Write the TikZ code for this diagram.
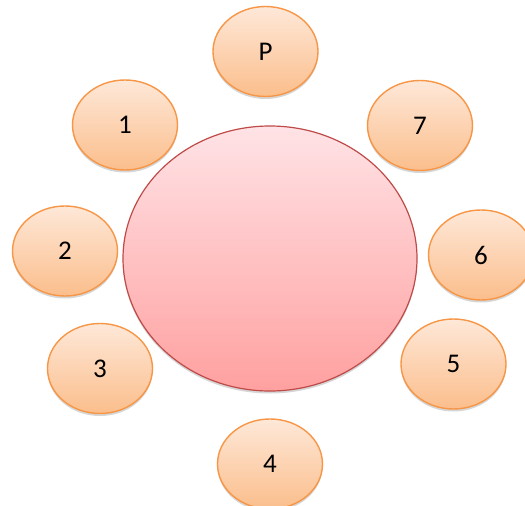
\documentclass[tikz,border=0pt]{standalone}
\usepackage{fontspec}
\setmainfont{Carlito}
\usetikzlibrary{shapes.geometric,shadows}
\definecolor{SeatEdge}{HTML}{F79646}
\definecolor{SeatTop}{HTML}{FEE8D8}
\definecolor{SeatBottom}{HTML}{FBBE8C}
\definecolor{TableEdge}{HTML}{BE4B48}
\definecolor{TableTop}{HTML}{FFE3E6}
\definecolor{TableBottom}{HTML}{FFA0A0}

\tikzset{
  seat/.style={ellipse,draw=SeatEdge,line width=1.4pt,top color=SeatTop,bottom color=SeatBottom,
    minimum width=105pt,minimum height=90pt,inner sep=0pt,
    drop shadow={shadow xshift=0pt,shadow yshift=-2.5pt,opacity=0.16,fill=black}},
  roundtable/.style={ellipse,draw=TableEdge,line width=1.2pt,top color=TableTop,bottom color=TableBottom,
    minimum width=294pt,minimum height=265pt,inner sep=0pt,
    drop shadow={shadow xshift=0pt,shadow yshift=-2.5pt,opacity=0.16,fill=black}}
}

\begin{document}
\begin{tikzpicture}[x=1pt,y=-1pt,font=\fontsize{27}{31}\selectfont]
  \useasboundingbox[fill=white] (0,0) rectangle (525,506);
  \node[roundtable] (table) at (270,258.5) {};
  \foreach \x/\y/\lab/\nm in {265.5/51.5/P/seatP,125/125/1/seat1,65/251/2/seat2,100/368.5/3/seat3,
                              270/464/4/seat4,453.5/364/5/seat5,481/255/6/seat6,420/125.5/7/seat7}{
    \node[seat] (\nm) at (\x,\y) {\lab};
  }
\end{tikzpicture}
\end{document}
